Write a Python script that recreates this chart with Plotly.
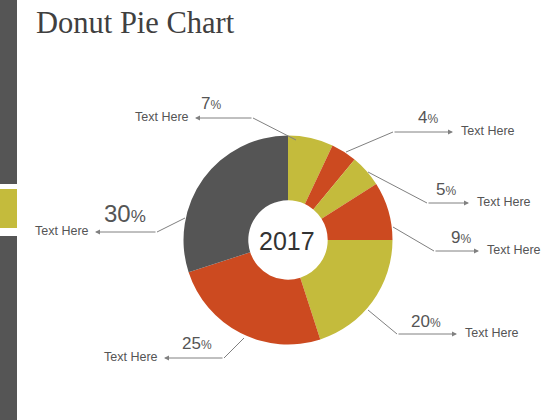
import plotly.graph_objects as go

# ---- data ----
slice_names = ["A", "B", "C", "D", "E", "F", "G"]
slice_values = [7, 4, 5, 9, 20, 25, 30]
slice_labels = ["Text Here"] * 7
center_label = "2017"
title_text = "Donut Pie Chart"

# ---- style ----
OLIVE = "#C4BB3C"
RED = "#CC4A20"
DARK = "#555555"
slice_colors = [OLIVE, RED, OLIVE, RED, OLIVE, RED, DARK]
TXT = "#555555"
LINE = "#808080"

W, H = 560, 420
cx, cy, R = 288, 240, 104.5

fig = go.Figure()
fig.add_trace(go.Pie(
    labels=slice_names, values=slice_values, sort=False,
    direction="clockwise", rotation=0, hole=0.38,
    marker=dict(colors=slice_colors, line=dict(width=0)),
    textinfo="none", hoverinfo="skip", showlegend=False,
    domain=dict(x=[(cx - R) / W, (cx + R) / W],
                y=[(H - cy - R) / H, (H - cy + R) / H]),
))

# leader geometry (layout positions, pixels): start, elbow, tip, pct-label pos, text side, size
leaders = [
    ((296, 140), (253, 118), (195, 118), (211, 103), "L", 17),
    ((346, 152), (393, 132), (453, 132), (428, 117), "R", 17),
    ((368, 172), (427, 203), (469, 203), (446, 189), "R", 17),
    ((393, 227), (434, 251), (479, 251), (461, 237), "R", 17),
    ((368, 310), (397, 334), (457, 334), (426, 321), "R", 17),
    ((244, 338), (224, 358), (164, 358), (197, 343), "L", 17),
    ((185, 218), (157, 232), (95, 232), (125, 213), "L", 24),
]

shapes = []
annotations = []
for (s, e, t, p, side, fs), val, lab in zip(leaders, slice_values, slice_labels):
    shapes.append(dict(type="line", xref="x", yref="y", x0=s[0], y0=s[1], x1=e[0], y1=e[1],
                       line=dict(color=LINE, width=1)))
    annotations.append(dict(xref="x", yref="y", x=t[0], y=t[1], axref="x", ayref="y",
                            ax=e[0], ay=e[1], showarrow=True, arrowhead=2, arrowsize=1,
                            arrowwidth=1, arrowcolor=LINE, standoff=0, text=""))
    pct_small = round(fs * 0.72)
    annotations.append(dict(xref="x", yref="y", x=p[0], y=p[1], showarrow=False,
                            text=f"{val}<span style='font-size:{pct_small}px'>%</span>",
                            font=dict(family="Liberation Sans, Arial", size=fs, color=TXT)))
    if side == "R":
        annotations.append(dict(xref="x", yref="y", x=t[0] + 6, y=t[1] - 1, showarrow=False,
                                xanchor="left", text=lab,
                                font=dict(family="Liberation Sans, Arial", size=12.5, color=TXT)))
    else:
        annotations.append(dict(xref="x", yref="y", x=t[0] - 4, y=t[1] - 1, showarrow=False,
                                xanchor="right", text=lab,
                                font=dict(family="Liberation Sans, Arial", size=12.5, color=TXT)))

# center label
annotations.append(dict(xref="x", yref="y", x=cx - 1, y=cy + 1, showarrow=False, text=center_label,
                        font=dict(family="Liberation Sans, Arial", size=25, color="#333333")))
# title
annotations.append(dict(xref="x", yref="y", x=34, y=23, showarrow=False, xanchor="left",
                        text=title_text,
                        font=dict(family="Liberation Serif, Georgia, serif", size=30.5, color="#404040")))

# left decorative bar
shapes += [
    dict(type="rect", xref="x", yref="y", x0=0, x1=17, y0=0, y1=184, fillcolor=DARK, line=dict(width=0), layer="below"),
    dict(type="rect", xref="x", yref="y", x0=0, x1=17, y0=189, y1=228, fillcolor=OLIVE, line=dict(width=0), layer="below"),
    dict(type="rect", xref="x", yref="y", x0=0, x1=17, y0=236, y1=420, fillcolor=DARK, line=dict(width=0), layer="below"),
]

fig.update_layout(
    width=W, height=H, margin=dict(l=0, r=0, t=0, b=0),
    paper_bgcolor="white", plot_bgcolor="white",
    xaxis=dict(range=[0, W], visible=False, fixedrange=True),
    yaxis=dict(range=[H, 0], visible=False, fixedrange=True),
    shapes=shapes, annotations=annotations,
)

fig.write_html("out.html", config={"displayModeBar": False},
               post_script="document.body.style.margin='0';")
